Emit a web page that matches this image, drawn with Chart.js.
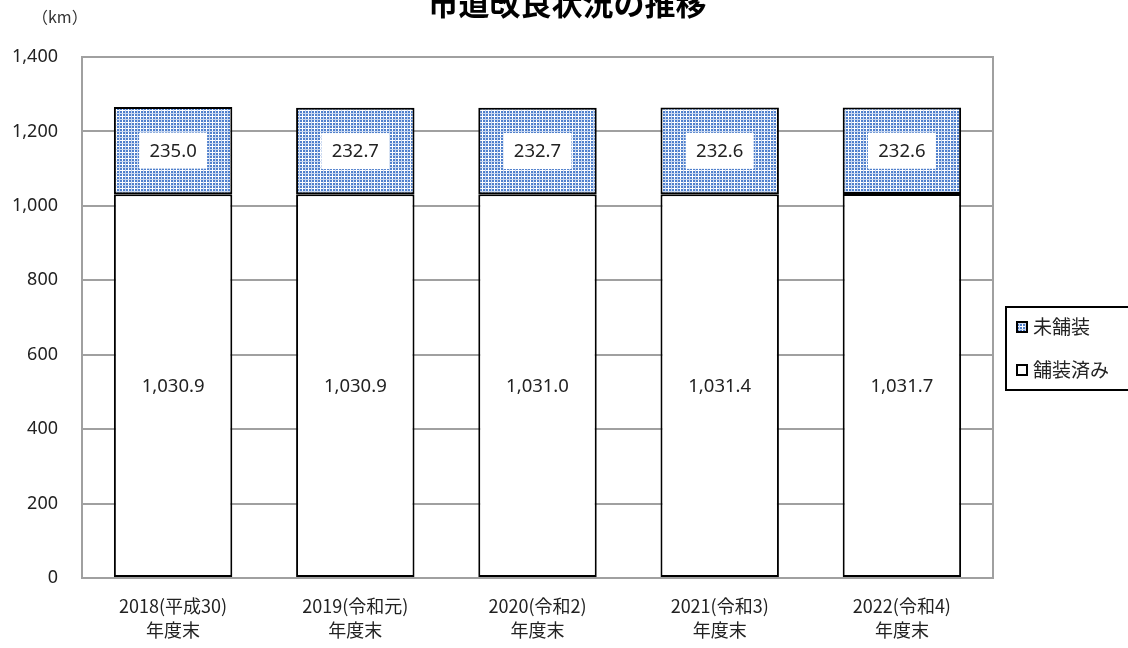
<!DOCTYPE html>
<html><head><meta charset="utf-8">
<script src="https://cdn.jsdelivr.net/npm/chart.js@4/dist/chart.umd.min.js"></script>
<style>html,body{margin:0;padding:0;background:#fff}#wrap{width:1128px;height:648px}</style>
</head><body><div id="wrap"><canvas id="c" width="1128" height="648"></canvas></div>
<script>
const categories = [["2018(平成30)","年度末"],["2019(令和元)","年度末"],["2020(令和2)","年度末"],["2021(令和3)","年度末"],["2022(令和4)","年度末"]];
const paved = [1030.9, 1030.9, 1031.0, 1031.4, 1031.7];
const unpaved = [235.0, 232.7, 232.7, 232.6, 232.6];
const seriesNames = ["舗装済み", "未舗装"];
const titleText = "市道改良状況の推移";
const unitText = "（km）";

const FONT = "'Noto Sans CJK JP', 'Noto Sans', sans-serif";
const NUMFONT = "'Noto Sans', 'Noto Sans CJK JP', sans-serif";

function makePattern(){
  const t = document.createElement('canvas'); t.width = 6; t.height = 6;
  const g = t.getContext('2d');
  g.fillStyle = '#5080cc'; g.fillRect(0,0,6,6);
  g.fillStyle = '#ffffff';
  g.fillRect(0,2,6,1); g.fillRect(2,0,1,6);
  g.fillStyle = '#c9d8f0';
  g.fillRect(0,5,6,1); g.fillRect(5,0,1,6);
  return document.getElementById('c').getContext('2d').createPattern(t,'repeat');
}
const pat = makePattern();

const fmt = v => v.toLocaleString('en-US',{minimumFractionDigits:1, maximumFractionDigits:1});

const overlay = {
  id:'overlay',
  afterDatasetsDraw(chart){
    const ctx = chart.ctx;
    ctx.save();
    ctx.font = "18.5px " + NUMFONT;
    ctx.textAlign = 'center'; ctx.textBaseline = 'middle';
    chart.data.datasets.forEach((ds, di)=>{
      const meta = chart.getDatasetMeta(di);
      meta.data.forEach((bar, i)=>{
        const y = (bar.y + bar.base)/2;
        const txt = fmt(ds.data[i]);
        if (di === 1){
          ctx.fillStyle = '#fff';
          ctx.fillRect(bar.x - 34, y - 18, 68, 36);
        }
        ctx.fillStyle = '#222';
        ctx.fillText(txt, bar.x, y + 1);
      });
    });
    // title
    ctx.font = "bold 31px " + FONT;
    ctx.fillStyle = '#000';
    ctx.textAlign = 'center'; ctx.textBaseline = 'alphabetic';
    ctx.fillText(titleText, 567, 15);
    // unit
    ctx.font = "16px " + FONT;
    ctx.fillStyle = '#333';
    ctx.textAlign = 'left'; ctx.textBaseline = 'middle';
    ctx.fillText(unitText, 32, 17);
    // legend
    ctx.strokeStyle = '#000'; ctx.lineWidth = 2;
    ctx.fillStyle = '#fff';
    ctx.fillRect(1006, 307, 130, 83);
    ctx.strokeRect(1006, 307, 130, 83);
    ctx.font = "19px " + FONT;
    ctx.textBaseline = 'middle';
    ctx.fillStyle = pat; ctx.fillRect(1017, 322, 10, 10);
    ctx.strokeRect(1017, 322, 10, 10);
    ctx.fillStyle = '#222'; ctx.fillText(seriesNames[1], 1033, 327);
    ctx.fillStyle = '#fff'; ctx.fillRect(1017, 365, 10, 10);
    ctx.strokeRect(1017, 365, 10, 10);
    ctx.fillStyle = '#222'; ctx.fillText(seriesNames[0], 1033, 370);
    ctx.restore();
  }
};

const border = {
  id:'border',
  beforeDatasetsDraw(chart){
    const a = chart.chartArea, ctx = chart.ctx;
    ctx.save();
    ctx.strokeStyle = '#a0a0a0'; ctx.lineWidth = 2;
    ctx.strokeRect(a.left, a.top, a.right - a.left, a.bottom - a.top);
    ctx.restore();
  }
};

new Chart(document.getElementById('c'), {
  type:'bar',
  data:{
    labels: categories,
    datasets:[
      {label: seriesNames[0], data: paved, backgroundColor:'#ffffff', borderColor:'#000', borderWidth:2, borderSkipped:false, categoryPercentage:1, barPercentage:0.65},
      {label: seriesNames[1], data: unpaved, backgroundColor: pat, borderColor:'#000', borderWidth:2, borderSkipped:false, categoryPercentage:1, barPercentage:0.65}
    ]
  },
  options:{
    responsive:false, animation:false,
    layout:{padding:{top:57, right:135, left:0, bottom:0}},
    plugins:{legend:{display:false}, title:{display:false}, tooltip:{enabled:false}},
    scales:{
      x:{stacked:true,
        grid:{display:false, drawTicks:false},
        border:{display:false},
        ticks:{font:{family:FONT, size:18, lineHeight:1.35}, color:'#222', padding:16, maxRotation:0},
        afterFit(s){ s.height = 70; }
      },
      y:{stacked:true, min:0, max:1400,
        grid:{color:'#a0a0a0', lineWidth:2, drawTicks:false},
        border:{display:false},
        ticks:{stepSize:200, font:{family:NUMFONT, size:18}, color:'#222', padding:24,
          callback:v=>v.toLocaleString('en-US')},
        afterFit(s){ s.width = 82; }
      }
    }
  },
  plugins:[border, overlay]
});
</script></body></html>
